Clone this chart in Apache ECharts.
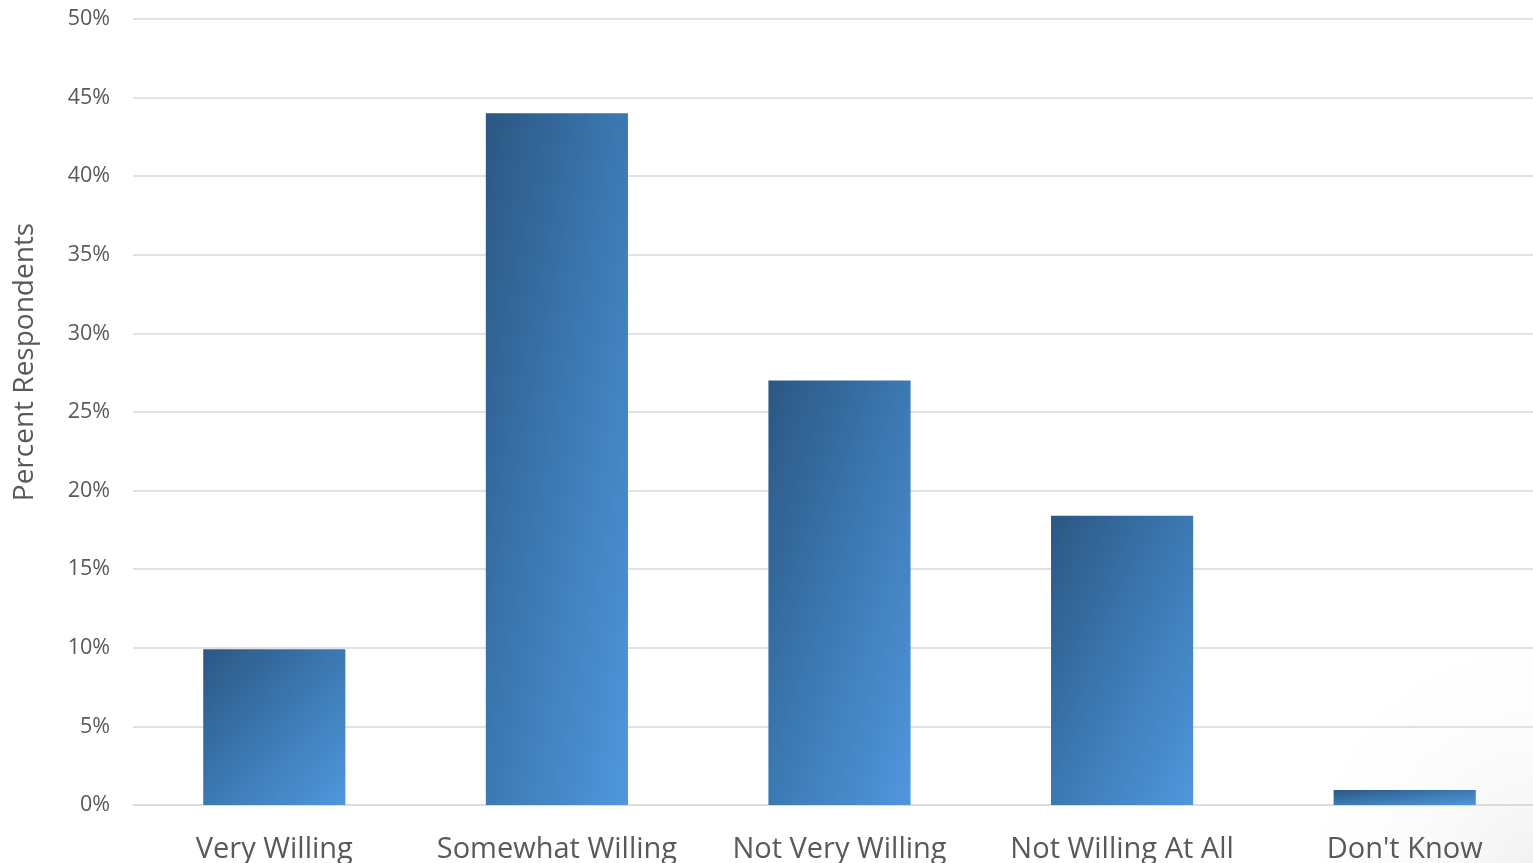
<!DOCTYPE html>
<html>
<head>
<meta charset="utf-8">
<script src="https://cdn.jsdelivr.net/npm/echarts@6/dist/echarts.min.js"></script>
<style>
html,body{margin:0;padding:0;background:#fff;}
#c{width:1533px;height:863px;}
</style>
</head>
<body>
<div id="c"></div>
<script>
const categories = ["Very Willing", "Somewhat Willing", "Not Very Willing", "Not Willing At All", "Don't Know"];
const values = [9.9, 44.0, 27.0, 18.4, 0.95];
const yTicks = [0, 5, 10, 15, 20, 25, 30, 35, 40, 45, 50];

const FONT = '"Open Sans", "Noto Sans", sans-serif';
const chart = echarts.init(document.getElementById('c'), null, {renderer: 'canvas'});

const option = {
  backgroundColor: '#ffffff',
  animation: false,
  graphic: [{
    type: 'rect',
    z: -10,
    silent: true,
    shape: {x: 0, y: 0, width: 1533, height: 863},
    style: {
      fill: new echarts.graphic.RadialGradient(1, 1, 0.3, [
        {offset: 0, color: 'rgba(242,242,242,1)'},
        {offset: 1, color: 'rgba(255,255,255,0)'}
      ])
    }
  }],
  grid: {left: 133, width: 1413, top: 19, bottom: 58, containLabel: false, outerBoundsMode: 'none'},
  xAxis: {
    type: 'category',
    data: categories,
    axisLine: {show: true, lineStyle: {color: '#D9D9D9', width: 1.5}},
    axisTick: {show: false},
    axisLabel: {color: '#595959', fontSize: 29, fontFamily: FONT, margin: 30, interval: 0}
  },
  yAxis: {
    type: 'value',
    min: yTicks[0],
    max: yTicks[yTicks.length - 1],
    interval: 5,
    name: 'Percent Respondents',
    nameLocation: 'middle',
    nameGap: 94,
    nameTextStyle: {color: '#595959', fontSize: 28, fontFamily: FONT, padding: [0, 0, 0, 100]},
    axisLine: {show: false},
    axisTick: {show: false},
    axisLabel: {color: '#595959', fontSize: 21.5, fontFamily: FONT, margin: 23, formatter: '{value}%'},
    splitLine: {lineStyle: {color: '#D9D9D9', width: 1.5}}
  },
  series: [{
    type: 'bar',
    data: values,
    barWidth: '50.3%',
    itemStyle: {color: '#3C78B0'}
  }]
};
chart.setOption(option);

// Diagonal gradient whose iso-lines follow the bar's anti-diagonal (scaled with shape)
const sData = chart.getModel().getSeriesByIndex(0).getData();
const styled = values.map((v, i) => {
  const l = sData.getItemLayout(i);
  const w = Math.abs(l.width), h = Math.abs(l.height) || 1;
  const d = w * w + h * h;
  return {
    value: v,
    itemStyle: {
      color: new echarts.graphic.LinearGradient(0, 0, 2 * h * h / d, 2 * w * w / d, [
        {offset: 0, color: '#2B5783'},
        {offset: 0.5, color: '#3C79B3'},
        {offset: 1, color: '#4F97DD'}
      ])
    }
  };
});
chart.setOption({series: [{data: styled}]});
</script>
</body>
</html>
